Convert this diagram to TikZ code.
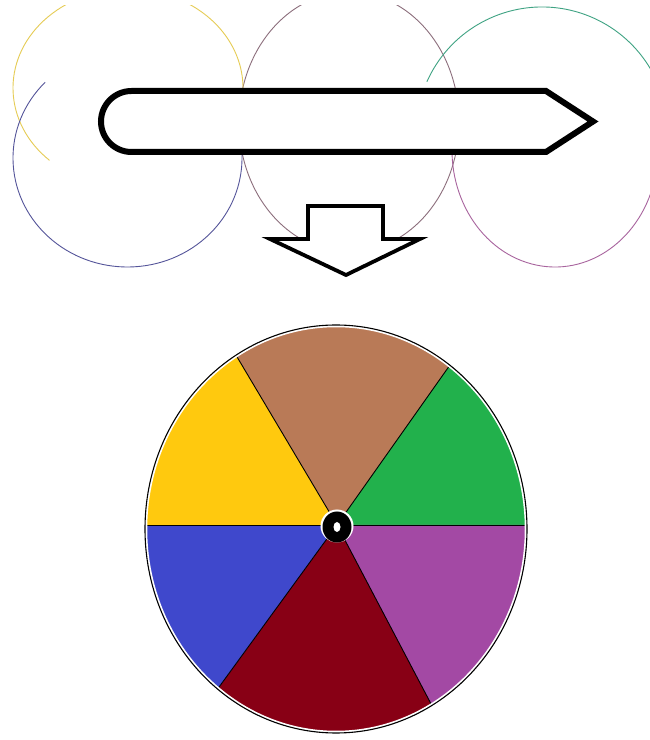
\documentclass[tikz,border=0pt]{standalone}
\usetikzlibrary{calc}
\definecolor{wYellow}{HTML}{FFC90E}
\definecolor{wBrown}{HTML}{B97A57}
\definecolor{wGreen}{HTML}{22B14C}
\definecolor{wPurple}{HTML}{A349A4}
\definecolor{wRed}{HTML}{880015}
\definecolor{wBlue}{HTML}{3F48CC}
\definecolor{cYellow}{HTML}{E6CC55}
\definecolor{cBlue}{HTML}{55559A}
\definecolor{cMid}{HTML}{8C6E7C}
\definecolor{cGreen}{HTML}{3FA383}
\definecolor{cPurple}{HTML}{A8649E}
\tikzset{
  thinring/.style={line width=0.9pt},
  bigarrow/.style={draw=black, fill=white, line width=6pt, line join=miter},
  downarrow/.style={draw=black, fill=white, line width=3.8pt, line join=miter},
  spoke/.style={draw=black, line width=0.9pt},
}
\begin{document}
\begin{tikzpicture}[x=1pt,y=1pt]
\useasboundingbox (0,0) rectangle (650,740);
\fill[white] (0,0) rectangle (650,740);

% ---- thin circles at the top ----
\begin{scope}
  \clip (0,0) rectangle (650,734);
  \draw[thinring, cMid] (349,618) ellipse [x radius=110, y radius=130];
  \draw[thinring, cYellow] (128,652) ++(227:115 and 99)
        arc[start angle=227, end angle=-20, x radius=115, y radius=99];
  \draw[thinring, cBlue] (127.5,582) ++(136:114.5 and 109)
        arc[start angle=136, end angle=380, x radius=114.5, y radius=109];
  \draw[thinring, cGreen] (542,607) ++(156:126)
        arc[start angle=156, end angle=-30, radius=126];
  \draw[thinring, cPurple] (555,590) ++(170:103 and 117)
        arc[start angle=170, end angle=380, x radius=103, y radius=117];
\end{scope}

% ---- big horizontal arrow ----
\coordinate (tr) at (546,649);
\coordinate (br) at (546,588);
\coordinate (tip) at (593,618.5);
\draw[bigarrow] (tr) -- (131.5,649)
   arc[start angle=90, end angle=270, radius=30.5] -- (br) -- (tip) -- cycle;

% ---- down arrow ----
\draw[downarrow] (308,534) -- (383,534) -- (383,501) -- (420,501)
   -- (346,465) -- (270,501) -- (308,501) -- cycle;

% ---- colour wheel ----
\coordinate (C) at (337,215);
\coordinate (UL) at (177,484);
\coordinate (UR) at (510,460);
\coordinate (LL) at (147,-46);
\coordinate (LR) at (491,-78);
\begin{scope}
  \clip (336,211) ellipse [x radius=191, y radius=204];
  \fill[wBrown]  (C) -- (UL) -- (UR) -- cycle;
  \fill[wGreen]  (C) -- (UR) -- (600,460) -- (600,215) -- cycle;
  \fill[wPurple] (C) -- (600,215) -- (600,-78) -- (LR) -- cycle;
  \fill[wRed]    (C) -- (LR) -- (LL) -- cycle;
  \fill[wBlue]   (C) -- (LL) -- (80,-46) -- (80,215) -- cycle;
  \fill[wYellow] (C) -- (80,215) -- (80,484) -- (UL) -- cycle;
  \draw[spoke] (C) -- (UL);
  \draw[spoke] (C) -- (UR);
  \draw[spoke] (C) -- (LL);
  \draw[spoke] (C) -- (LR);
  \draw[spoke] (80,215) -- (600,215);
  \draw[white, line width=2.5pt] (336,211) ellipse [x radius=190, y radius=203];
\end{scope}
\draw[black, line width=1.1pt] (336,211) ellipse [x radius=191, y radius=204];

% hub
\fill[white] (337,214) circle[radius=16.5];
\fill[black] (337,213) ellipse [x radius=14.5, y radius=15.5];
\fill[white] (337,213) ellipse [x radius=3.5, y radius=5];
\end{tikzpicture}
\end{document}
